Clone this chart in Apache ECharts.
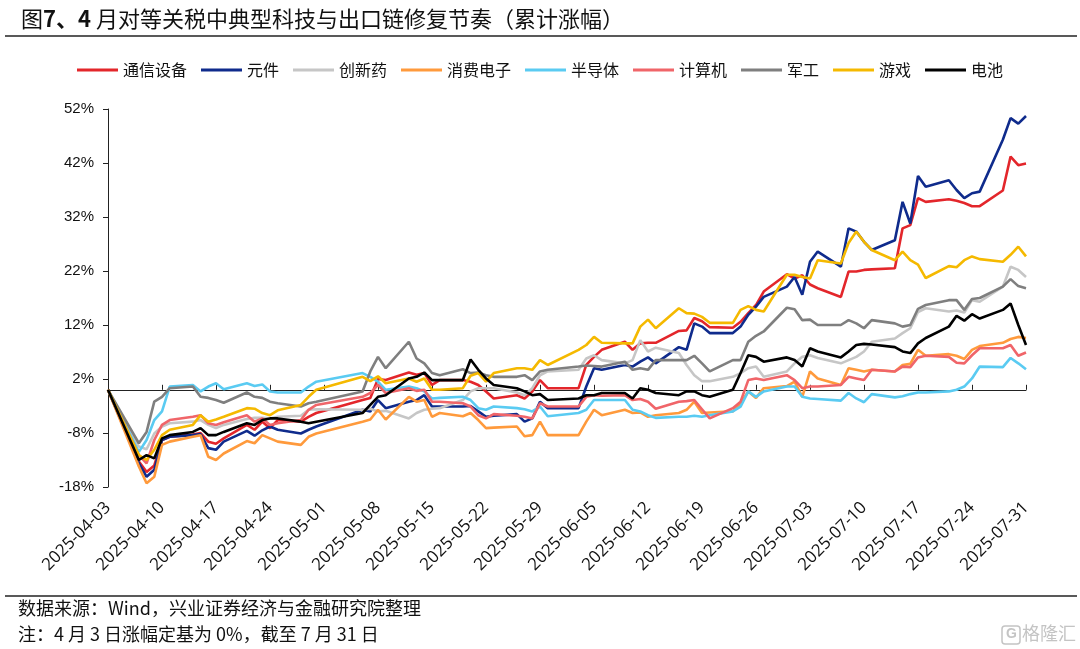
<!DOCTYPE html>
<html><head><meta charset="utf-8">
<script src="https://cdn.jsdelivr.net/npm/echarts@6.0.0/dist/echarts.min.js"></script>
<style>html,body{margin:0;padding:0;background:#fff}#c{width:1080px;height:649px}</style>
</head><body><div id="c"></div>
<script>
// trading days, grouped by week
const tradeDates = [
  '2025-04-03',
  '2025-04-07','2025-04-08','2025-04-09','2025-04-10','2025-04-11',
  '2025-04-14','2025-04-15','2025-04-16','2025-04-17','2025-04-18',
  '2025-04-21','2025-04-22','2025-04-23','2025-04-24','2025-04-25',
  '2025-04-28','2025-04-29','2025-04-30',
  '2025-05-06','2025-05-07','2025-05-08','2025-05-09',
  '2025-05-12','2025-05-13','2025-05-14','2025-05-15','2025-05-16',
  '2025-05-19','2025-05-20','2025-05-21','2025-05-22','2025-05-23',
  '2025-05-26','2025-05-27','2025-05-28','2025-05-29','2025-05-30',
  '2025-06-03','2025-06-04','2025-06-05','2025-06-06',
  '2025-06-09','2025-06-10','2025-06-11','2025-06-12','2025-06-13',
  '2025-06-16','2025-06-17','2025-06-18','2025-06-19','2025-06-20',
  '2025-06-23','2025-06-24','2025-06-25','2025-06-26','2025-06-27',
  '2025-06-30','2025-07-01','2025-07-02','2025-07-03','2025-07-04',
  '2025-07-07','2025-07-08','2025-07-09','2025-07-10','2025-07-11',
  '2025-07-14','2025-07-15','2025-07-16','2025-07-17','2025-07-18',
  '2025-07-21','2025-07-22','2025-07-23','2025-07-24','2025-07-25',
  '2025-07-28','2025-07-29','2025-07-30','2025-07-31'
];
const tickLabels = ['2025-04-03','2025-04-10','2025-04-17','2025-04-24','2025-05-01','2025-05-08','2025-05-15','2025-05-22','2025-05-29','2025-06-05','2025-06-12','2025-06-19','2025-06-26','2025-07-03','2025-07-10','2025-07-17','2025-07-24','2025-07-31'];
const yTicks = [-18, -8, 2, 12, 22, 32, 42, 52];

const names = ['通信设备','元件','创新药','消费电子','半导体','计算机','军工','游戏','电池'];
const colors = ['#E3262B','#0F2B8C','#C6C6C6','#FF9A3C','#5ACBF2','#F06569','#7F7F7F','#F5B900','#000000'];

const tongxin = [0,
  -13.3,-15.2,-14,-9.3,-8.7,  -8.3,-8,-9.6,-10,-9,  -6.5,-7.4,-5.9,-7.1,-5.6,  -5.9,-5,-4.3,
  -1.9,-1.5,2,1.8,  3.2,2.8,3.1,0.9,1.8,  1.8,1.5,0.9,-0.3,-1.6,  -1,-1.6,-0.3,1.8,0.3,
  0.3,4.6,6.1,7.4,  8.9,7.4,8.6,8.7,8.7,  10.9,11,13.3,12.7,11.6,  11.5,12.6,14.2,15.7,18.2,
  21.4,20.6,21.2,19.5,18.8,  17.2,21.9,21.9,22.2,22.3,  22.5,29.9,30.5,35.5,34.8,
  35.3,35,34.6,34,34,  36.9,43.2,41.6,41.9];
const yuanjian = [0,
  -13.6,-16.1,-14.8,-9.3,-8.7,  -8.4,-8.2,-10.8,-11.1,-9.6,  -7.6,-8.5,-7.5,-6.8,-7.4,  -8.1,-7.4,-6.8,
  -3.7,-4,-1.9,-3.4,  -2.2,-1.9,-1,-3.1,-3.1,  -3.1,-3,-4,-5,-4.8,  -4.5,-5.9,-5.3,-2.2,-3.4,
  -3.4,0.6,4,3.7,  4.6,4.3,5.2,6,4.9,  7.9,7.4,12.3,11.7,10.5,  10.5,11.7,13.9,15.4,17.2,
  19.1,20.9,17.6,23.7,25.6,  22.8,29.9,29.3,27.4,25.9,  27.7,34.8,30.8,39.6,37.6,
  38.8,37,35.5,36.4,36.7,  46.3,50.3,49.3,50.7];
const chuangxinyao = [0,
  -10.5,-11,-8.1,-6.8,-6.2,  -5.9,-5.6,-6.5,-7.1,-6.5,  -5.4,-5.2,-5.2,-5.3,-5,  -4.8,-3.7,-3.6,
  -3.7,-3.5,-4,-3.9,  -5.3,-4.3,-3.7,-3.5,-3.4,  -1.9,-0.3,0.3,0.3,0.3,  -0.5,-1,0.3,2.7,3.4,
  3.7,5.8,6.4,5.5,  4.9,5.5,9.2,7.1,7.8,  6.8,4.6,2.7,1.6,1.6,  2.4,3.1,4,4.3,2.4,
  3.4,4.9,6.1,6.4,5.9,  4.9,5.5,6.1,7.1,8.9,  9.5,10.5,11.4,14.4,15.1,
  14.5,14.7,14.3,16.6,16.3,  19.1,22.8,22.2,20.9];
const xiaofeidianzi = [0,
  -14.2,-17.3,-16.1,-10.2,-9.6,  -8.7,-8.4,-12.4,-13,-11.8,  -9.5,-9.9,-8.4,-9,-9.6,  -10.2,-8.7,-8.1,
  -5.9,-5.5,-3.7,-5.5,  -1.3,-2.2,-1.9,-5,-4.3,  -4.9,-4.3,-5.6,-7.1,-7,  -6.8,-8.6,-8.4,-5.9,-8.4,
  -8.4,-5.9,-3.7,-4.7,  -3.7,-4.3,-4.2,-5,-4.7,  -4.3,-3.7,-2.2,-4.3,-4.2,  -4,-2.5,-0.3,-1.5,0.3,
  0.7,1.5,-1.3,3.4,2.1,  0.9,4,3.7,3.4,3.7,  3.4,4.6,4.8,7.4,6.3,
  6.6,6.3,5.7,7.4,8.1,  8.7,9.4,9.8,9.6];
const bandaoti = [0,
  -11.5,-9.3,-5.6,-4,0.6,  0.9,-0.3,0.6,1.2,0.1,  1.2,0.7,1,-0.3,-0.5,  -0.5,0.6,1.5,
  3.1,2.4,1.5,0,  0.6,0.3,-0.3,-1.6,-1.5,  -1.3,-1.9,-3.4,-3.7,-3.1,  -3.4,-3.6,-4,-3.1,-4.9,
  -4.3,-3.7,-1.9,-1.9,  -1.9,-3.7,-4,-4.7,-5.2,  -5,-5,-4.8,-5,-4.7,  -4,-3.1,-0.3,-1.3,-0.3,
  0.6,0.6,-1.3,-1.6,-1.7,  -2,-0.6,-1.6,-2.3,-0.8,  -1.4,-1.2,-0.8,-0.5,-0.5,
  -0.3,0,0.6,2.1,4.3,  4.2,5.9,4.9,3.8];
const jisuanji = [0,
  -12.1,-13.6,-9.3,-6.5,-5.6,  -5,-4.7,-6.2,-6.5,-6,  -4.7,-5.9,-5.3,-6.5,-6.2,  -5.6,-3.7,-2.8,
  -1.3,-0.6,0.9,-0.6,  0.3,-0.2,0,-2.2,-2.2,  -2.5,-3.1,-4.7,-5.3,-4.5,  -4.8,-5,-5.3,-2.5,-3.1,
  -3.1,-1.3,-1,-1.1,  -1,-1.9,-1.7,-2.2,-3.5,  -2.2,-2.1,-1.9,-3.6,-5.3,  -3.4,-2.2,1.8,2.1,1.8,
  2.7,1.8,0.3,0.6,0.6,  0.9,2.4,2.1,1.8,3.7,  3.4,4.3,4.2,6,6.3,
  6.1,5,4.9,6.4,7.7,  7.7,8.3,6.3,6.9];
const jungong = [0,
  -9.9,-7.8,-2.2,-1.3,0.3,  0.6,-1.3,-1.5,-1.9,-2.4,  -0.5,-1.3,-1.5,-2.2,-2.5,  -3.1,-2.5,-2.2,
  -0.3,3.4,6.1,4,  8.9,5.8,4.9,3.1,2.7,  3.8,3.1,3.2,2.7,2.4,  2.4,2.7,1.8,3.4,3.7,
  4.3,4.5,4.4,4.3,  5.2,3.7,4,3.7,5.5,  5.5,5.5,6.3,4.9,3.4,  5.5,5.5,8.9,10,10.8,
  15.2,14.9,12.9,13,12,  12,12.9,12.3,11.4,12.9,  12.3,11.7,12,15,15.7,
  16.6,16.6,14.8,16.8,17,  19.1,20.5,19.2,18.8];
const youxi = [0,
  -12.1,-13,-11.1,-8.4,-7.4,  -6.5,-4.7,-5.9,-5.5,-5,  -3.4,-3.5,-4.3,-4.7,-3.8,  -2.8,-1.3,0,
  2.4,1.6,2.5,1.2,  2.1,1.5,2.1,0,0,  0.3,2.6,3.1,1.5,3.1,  4,4,3.7,5.5,4.6,
  7.4,8.3,9.8,8.7,  8.6,8.6,11.7,13,11.4,  15.1,14.2,14.1,13.5,12.4,  12.4,14.8,15.5,14.8,14.5,
  21.3,21.3,20.9,20.6,24,  23.4,27.2,29.3,27.4,25.9,  24,25.6,24,23.2,20.7,
  22.9,22.7,24,24.7,24.2,  23.7,25,26.5,24.7];
const dianchi = [0,
  -13,-12.1,-12.7,-9,-8.4,  -7.8,-7.1,-8.4,-8.4,-7.8,  -6.2,-6.5,-5.6,-5.3,-5.3,  -5.9,-6.2,-5.9,
  -4.3,-2.8,-1.3,-1,  2.1,2.4,3.2,1.8,1.8,  1.8,5.6,3.7,2.1,0.9,  0.3,-0.3,-1,-0.8,-1.9,
  -1.6,-1,-1,-0.6,  -0.6,-1.6,0.3,0,-0.6,  -1,-0.3,-0.3,-1,-1.3,  0,3.1,6.4,6.1,5.2,
  6,5.5,4.3,7.7,7.1,  6,7.1,8.3,8.5,8.4,  7.9,7.1,6.8,8.6,9.6,
  11.7,13.7,12.8,14,13.2,  14.8,16,12,8.3];

const seriesValues = [tongxin, yuanjian, chuangxinyao, xiaofeidianzi, bandaoti, jisuanji, jungong, youxi, dianchi];

const DAY = 86400000;
const base = Date.parse(tradeDates[0] + 'T00:00:00Z');
const dayOffset = d => Math.round((Date.parse(d + 'T00:00:00Z') - base) / DAY);
const lastDay = dayOffset(tickLabels[tickLabels.length - 1]);

const cjk = '"Noto Sans CJK SC", "Noto Sans", sans-serif';
const latin = '"Liberation Sans", Arial, sans-serif';

const chart = echarts.init(document.getElementById('c'), null, {renderer: 'canvas'});
chart.setOption({
  animation: false,
  backgroundColor: '#fff',
  title: {
    text: '图{b|7、4}\u00a0月对等关税中典型科技与出口链修复节奏（累计涨幅）',
    left: 16, top: 3,
    textStyle: {
      fontSize: 22, fontWeight: 'normal', color: '#111', fontFamily: cjk,
      rich: { b: { fontSize: 22, fontWeight: 'bold', color: '#111', fontFamily: cjk } }
    }
  },
  legend: {
    data: names,
    left: 'center', top: 57,
    icon: 'rect', itemWidth: 41, itemHeight: 3, itemGap: 14,
    textStyle: { fontSize: 16, color: '#111', fontFamily: cjk }
  },
  grid: { left: 108, right: 54, top: 109, bottom: 162, containLabel: false },
  xAxis: [
    {
      type: 'value', min: 0, max: lastDay, interval: 7, position: 'bottom',
      axisLine: { show: false, onZero: false },
      axisTick: { show: false },
      splitLine: { show: false },
      axisLabel: {
        rotate: 45, margin: 18, fontSize: 17, color: '#111', fontFamily: '"Open Sans", "Noto Sans", sans-serif',
        formatter: v => tickLabels[Math.round(v / 7)] || ''
      }
    },
    {
      type: 'value', min: 0, max: lastDay, interval: 7, position: 'bottom',
      axisLine: { show: true, onZero: true, lineStyle: { color: '#222', width: 1 } },
      axisTick: { show: true, inside: true, length: 5, lineStyle: { color: '#222' } },
      splitLine: { show: false },
      axisLabel: { show: false }
    }
  ],
  yAxis: {
    type: 'value', min: yTicks[0], max: yTicks[yTicks.length - 1], interval: 10,
    axisLine: { show: true, onZero: false, lineStyle: { color: '#222', width: 1 } },
    axisTick: { show: true, inside: false, length: 5, lineStyle: { color: '#222' } },
    splitLine: { show: false },
    axisLabel: { fontSize: 15, color: '#111', margin: 14, fontFamily: latin, formatter: v => Math.round(v) + '%' }
  },
  series: names.map((n, i) => ({
    name: n, type: 'line', xAxisIndex: 0,
    data: tradeDates.map((d, k) => [dayOffset(d), seriesValues[i][k]]),
    showSymbol: false, symbol: 'none',
    lineStyle: { width: 2.6, color: colors[i] },
    itemStyle: { color: colors[i] },
    z: 2 + i
  })),
  graphic: [
    { type: 'line', shape: { x1: 5, y1: 36, x2: 1077, y2: 36 }, style: { stroke: '#222', lineWidth: 1.5 } },
    { type: 'line', shape: { x1: 5, y1: 596, x2: 1077, y2: 596 }, style: { stroke: '#222', lineWidth: 1.5 } },
    { type: 'text', x: 18, y: 599, style: { text: '数据来源：Wind，兴业证券经济与金融研究院整理', fontSize: 18, fontFamily: cjk, fill: '#111' } },
    { type: 'text', x: 18, y: 625, style: { text: '注：4 月 3 日涨幅定基为 0%，截至 7 月 31 日', fontSize: 18, fontFamily: cjk, fill: '#111' } },
    { type: 'rect', shape: { x: 1002, y: 626, width: 18, height: 18, r: 3 }, style: { fill: 'none', stroke: '#c4c4c4', lineWidth: 1.5 } },
    { type: 'text', x: 1006, y: 627, style: { text: 'G', fontSize: 14, fontWeight: 'bold', fontFamily: latin, fill: '#c4c4c4' } },
    { type: 'text', x: 1022, y: 624, style: { text: '格隆汇', fontSize: 18, fontFamily: cjk, fill: '#c4c4c4' } }
  ]
});
</script>
</body></html>
